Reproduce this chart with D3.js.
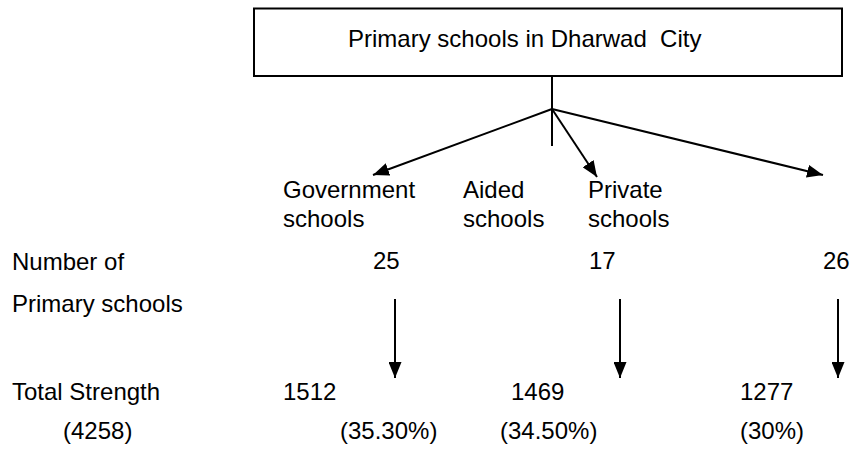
<!DOCTYPE html>
<html>
<head>
<meta charset="utf-8">
<script src="https://cdn.jsdelivr.net/npm/d3@7"></script>
<style>
  body { margin: 0; background: #fff; }
  svg text { font-family: "Liberation Sans", Arial, sans-serif; font-size: 24px; fill: #000; }
</style>
</head>
<body>
<svg width="851" height="452"></svg>
<script>
// data
var title = "Primary schools in Dharwad\u00a0 City";
var categories = ["Government", "Aided", "Private"];
var categoryLabels = [["Government", "schools"], ["Aided", "schools"], ["Private", "schools"]];
var schoolCounts = [25, 17, 26];
var strengths = [1512, 1469, 1277];
var percentLabels = ["(35.30%)", "(34.50%)", "(30%)"];
var totalStrength = 4258;
var rowLabels = [["Number of", "Primary schools"], ["Total Strength", "(" + totalStrength + ")"]];

var svg = d3.select("svg");

// x positions per row (the original layout is not evenly spaced)
var xLabel = d3.scaleOrdinal().domain(categories).range([283, 463, 588]);
var xBranch = d3.scaleOrdinal().domain(categories).range([373, 597, 823]);
var xCount = d3.scaleOrdinal().domain(categories).range([373, 589, 823]);
var xArrow = d3.scaleOrdinal().domain(categories).range([395, 620, 838]);
var xStrength = d3.scaleOrdinal().domain(categories).range([283, 511, 740]);
var xPct = d3.scaleOrdinal().domain(categories).range([340, 500, 740]);

var defs = svg.append("defs");
defs.append("marker")
    .attr("id", "head")
    .attr("viewBox", "0 0 16 13")
    .attr("refX", 16)
    .attr("refY", 6.5)
    .attr("markerWidth", 16)
    .attr("markerHeight", 13)
    .attr("markerUnits", "userSpaceOnUse")
    .attr("orient", "auto")
  .append("path")
    .attr("d", "M0,0L16,6.5L0,13Z")
    .attr("fill", "#000");

// title box
svg.append("rect")
    .attr("x", 254).attr("y", 8.5)
    .attr("width", 588).attr("height", 67.5)
    .attr("fill", "none").attr("stroke", "#000").attr("stroke-width", 2);
svg.append("text").attr("x", 348).attr("y", 47).text(title);

// trunk
svg.append("line")
    .attr("x1", 552).attr("y1", 76).attr("x2", 552).attr("y2", 146)
    .attr("stroke", "#000").attr("stroke-width", 2);

// branches to the three school types
var tipY = [175, 177, 175];
svg.selectAll(".branch")
    .data(categories)
  .enter().append("line")
    .attr("class", "branch")
    .attr("x1", 552).attr("y1", 109)
    .attr("x2", d => xBranch(d))
    .attr("y2", (d, i) => tipY[i])
    .attr("stroke", "#000").attr("stroke-width", 2)
    .attr("marker-end", "url(#head)");

// category labels
var cat = svg.selectAll(".cat")
    .data(categories)
  .enter().append("text")
    .attr("class", "cat")
    .attr("x", d => xLabel(d))
    .attr("y", 198);
cat.selectAll("tspan")
    .data((d, i) => categoryLabels[i])
  .enter().append("tspan")
    .attr("x", function() { return this.parentNode.getAttribute("x"); })
    .attr("dy", (d, i) => i === 0 ? 0 : 29)
    .text(d => d);

// row labels
var rowY = [[270, 312], [400, 439]];
var rowX = [[12, 12], [12, 63]];
rowLabels.forEach(function(lines, r) {
  svg.selectAll(".row" + r)
      .data(lines)
    .enter().append("text")
      .attr("x", (d, i) => rowX[r][i])
      .attr("y", (d, i) => rowY[r][i])
      .text(d => d);
});

// counts
svg.selectAll(".count")
    .data(schoolCounts)
  .enter().append("text")
    .attr("class", "count")
    .attr("x", (d, i) => xCount(categories[i]))
    .attr("y", 269)
    .text(d => d);

// down arrows
svg.selectAll(".down")
    .data(categories)
  .enter().append("line")
    .attr("class", "down")
    .attr("x1", d => xArrow(d)).attr("y1", 299)
    .attr("x2", d => xArrow(d)).attr("y2", 378)
    .attr("stroke", "#000").attr("stroke-width", 2)
    .attr("marker-end", "url(#head)");

// strengths
svg.selectAll(".strength")
    .data(strengths)
  .enter().append("text")
    .attr("class", "strength")
    .attr("x", (d, i) => xStrength(categories[i]))
    .attr("y", 400)
    .text(d => d);

// percentages
svg.selectAll(".pct")
    .data(percentLabels)
  .enter().append("text")
    .attr("class", "pct")
    .attr("x", (d, i) => xPct(categories[i]))
    .attr("y", 439)
    .text(d => d);
</script>
</body>
</html>
